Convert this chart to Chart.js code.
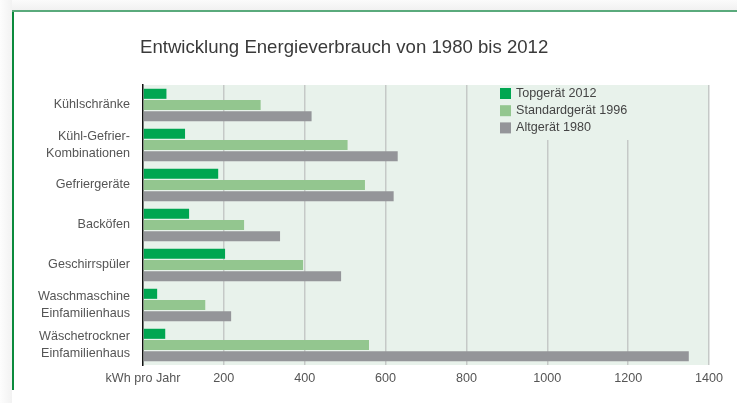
<!DOCTYPE html>
<html lang="de">
<head>
<meta charset="utf-8">
<title>Entwicklung Energieverbrauch</title>
<script src="https://cdn.jsdelivr.net/npm/chart.js@4/dist/chart.umd.min.js"></script>
<style>
    html, body { margin: 0; padding: 0; background: #fff; }
    #wrap { position: relative; width: 737px; height: 403px; overflow: hidden; }
    #shadeTop { position: absolute; left: 0; top: 0; width: 737px; height: 10px; background: linear-gradient(#fbfbfb, #f1f1f1); }
    #shadeLeft { position: absolute; left: 0; top: 0; width: 12px; height: 403px; background: linear-gradient(90deg, #fdfdfd, #f2f2f2); }
    #lineTop { position: absolute; left: 12px; top: 10px; width: 725px; height: 2px; background: #5aaa7c; }
    #lineLeft { position: absolute; left: 12px; top: 12px; width: 2px; height: 378px; background: #0b8a3c; }
    canvas { position: absolute; left: 0; top: 0; }
</style>
</head>
<body>
<div id="wrap">
    <div id="shadeTop"></div>
    <div id="shadeLeft"></div>
    <div id="lineTop"></div>
    <div id="lineLeft"></div>
    <canvas id="energyChart" width="737" height="403"></canvas>
</div>
<script>
const chartTitle = 'Entwicklung Energieverbrauch von 1980 bis 2012';
const axisUnit = 'kWh pro Jahr';

const categories = [
    'Kühlschränke',
    ['Kühl-Gefrier-', 'Kombinationen'],
    'Gefriergeräte',
    'Backöfen',
    'Geschirrspüler',
    ['Waschmaschine', 'Einfamilienhaus'],
    ['Wäschetrockner', 'Einfamilienhaus']
];

const seriesNames = ['Topgerät 2012', 'Standardgerät 1996', 'Altgerät 1980'];
const topValues = [58, 104, 186, 114, 203, 35, 55];
const standardValues = [291, 506, 549, 250, 396, 154, 559];
const oldValues = [417, 630, 620, 339, 490, 218, 1350];

const xTicks = [0, 200, 400, 600, 800, 1000, 1200, 1400];

const colors = ['#00a651', '#93c68f', '#949599'];
const fontFamily = '"Liberation Sans", Arial, sans-serif';

// light green plot background
const plotBackground = {
    id: 'plotBackground',
    beforeDraw(chart) {
        const { ctx, chartArea } = chart;
        ctx.save();
        ctx.fillStyle = '#e8f2eb';
        ctx.fillRect(chartArea.left, chartArea.top, chartArea.right - chartArea.left, chartArea.bottom - chartArea.top);
        ctx.restore();
    }
};

// title and legend drawn on the canvas
const titleAndLegend = {
    id: 'titleAndLegend',
    afterDatasetsDraw(chart) {
        const { ctx, chartArea } = chart;
        ctx.save();
        ctx.fillStyle = '#3a3a3a';
        ctx.font = '18.6px ' + fontFamily;
        ctx.textBaseline = 'middle';
        ctx.textAlign = 'left';
        ctx.fillText(chartTitle, 140, 48);

        // legend panel hides the gridlines behind it
        ctx.fillStyle = '#e8f2eb';
        ctx.fillRect(492, chartArea.top, 170, 140 - chartArea.top);

        ctx.font = '12.6px ' + fontFamily;
        chart.data.datasets.forEach((ds, i) => {
            const y = 93.5 + i * 17.2;
            ctx.fillStyle = ds.backgroundColor;
            ctx.fillRect(500, y - 5.5, 11, 11);
            ctx.fillStyle = '#444';
            ctx.fillText(ds.label, 516, y);
        });
        ctx.restore();
    }
};

new Chart(document.getElementById('energyChart').getContext('2d'), {
    type: 'bar',
    data: {
        labels: categories,
        datasets: [
            { label: seriesNames[0], data: topValues, backgroundColor: colors[0] },
            { label: seriesNames[1], data: standardValues, backgroundColor: colors[1] },
            { label: seriesNames[2], data: oldValues, backgroundColor: colors[2] }
        ]
    },
    options: {
        indexAxis: 'y',
        responsive: false,
        animation: false,
        categoryPercentage: 0.84,
        barPercentage: 0.9,
        layout: {
            padding: { top: 85, right: 28, bottom: 0, left: 0 }
        },
        plugins: {
            legend: { display: false },
            title: { display: false },
            tooltip: { enabled: false }
        },
        scales: {
            x: {
                min: xTicks[0],
                max: xTicks[xTicks.length - 1],
                afterBuildTicks: scale => {
                    scale.ticks = xTicks.map(v => ({ value: v }));
                },
                afterFit: scale => {
                    scale.height = 38;
                },
                grid: {
                    color: ctx => ctx.tick && ctx.tick.value === 0 ? 'rgba(0,0,0,0)' : '#c5c9c7',
                    lineWidth: 1.5,
                    drawTicks: false
                },
                border: { display: false },
                ticks: {
                    padding: 6,
                    color: '#555',
                    font: { family: fontFamily, size: 12.6 },
                    maxRotation: 0,
                    callback: value => value === 0 ? axisUnit : value
                }
            },
            y: {
                afterFit: scale => {
                    scale.width = 143;
                },
                grid: { display: false, drawTicks: false },
                border: { display: true, color: '#111', width: 1.5 },
                ticks: {
                    padding: 13,
                    color: '#555',
                    font: { family: fontFamily, size: 12.6, lineHeight: 1.3 }
                }
            }
        }
    },
    plugins: [plotBackground, titleAndLegend]
});
</script>
</body>
</html>
